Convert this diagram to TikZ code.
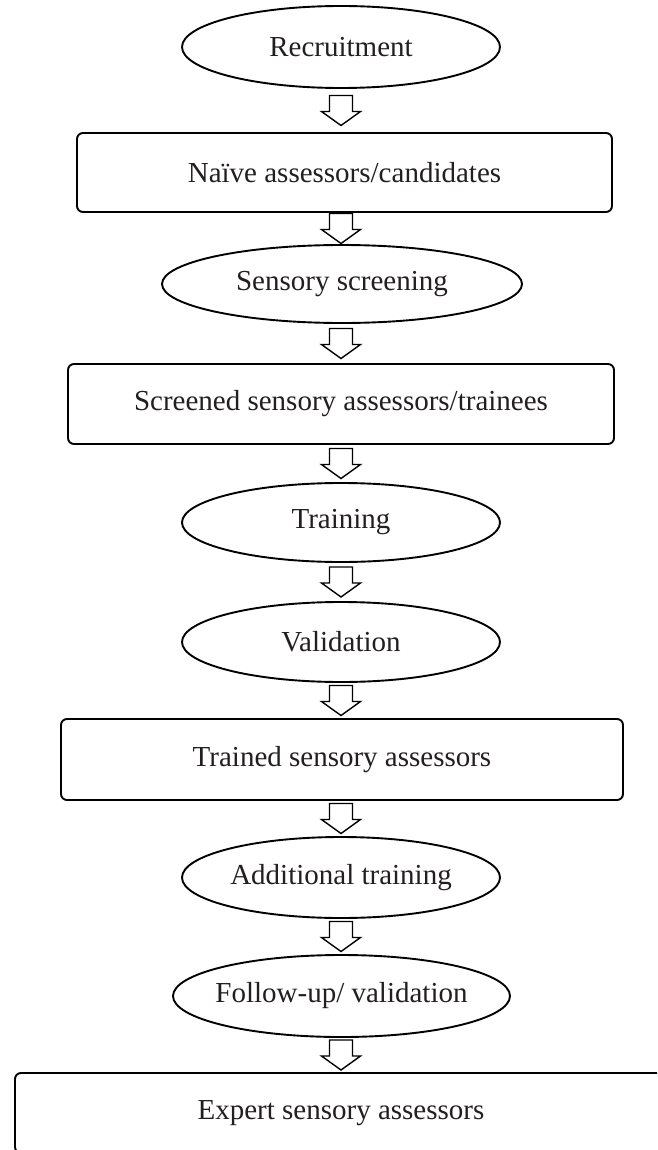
\documentclass[tikz,border=0pt]{standalone}
\usepackage{fontspec}
\setmainfont{Liberation Serif}
\usetikzlibrary{shapes.geometric,calc}
\definecolor{txt}{HTML}{231F20}
\tikzset{
  lbl/.style={font=\fontsize{29}{34}\selectfont, text=txt},
  oval/.style={ellipse, draw=black, line width=1.9pt, fill=white, inner sep=0pt, lbl},
  boxnode/.style={rectangle, rounded corners=6pt, draw=black, line width=1.9pt, fill=white, inner sep=0pt, lbl},
  darrow/.pic={\draw[line width=1.4pt, fill=white, line join=miter]
     (-11.5,-15) -- (11.5,-15) -- (11.5,1) -- (19.5,1) -- (0,15) -- (-19.5,1) -- (-11.5,1) -- cycle;}
}
\begin{document}
\begin{tikzpicture}[x=1pt,y=-1pt]
\useasboundingbox (0,0) rectangle (657,1150);
\clip (0,0) rectangle (657,1150);
\fill[white] (0,0) rectangle (657,1150);

\node[oval, minimum width=318pt, minimum height=82pt] (recr) at (341,47) {Recruitment};
\node[boxnode, minimum width=535pt, minimum height=79pt] (naive) at (344.5,172.5) {Naïve assessors/candidates};
\node[oval, minimum width=360pt, minimum height=78pt] (screen) at (342,284) {Sensory screening};
\node[boxnode, minimum width=546pt, minimum height=80pt] (screened) at (341,404) {Screened sensory assessors/trainees};
\node[oval, minimum width=318pt, minimum height=79pt] (train) at (341,522.5) {Training};
\node[oval, minimum width=318pt, minimum height=80pt] (valid) at (341,642) {Validation};
\node[boxnode, minimum width=562pt, minimum height=81pt] (trained) at (342,759.5) {Trained sensory assessors};
\node[oval, inner xsep=-12pt, minimum width=318pt, minimum height=81pt] (addtr) at (341,877.5) {Additional training};
\node[oval, inner xsep=-12pt, minimum width=337pt, minimum height=82pt] (follow) at (341.5,996) {Follow-up/ validation};
\node[boxnode, minimum width=652pt, minimum height=80pt] (expert) at (341,1113) {Expert sensory assessors};

\coordinate (m1) at ($(recr.south)!0.5!(naive.north)$);
\coordinate (m2) at ($(naive.south)!0.5!(screen.north)$);
\coordinate (m3) at ($(screen.south)!0.5!(screened.north)$);
\coordinate (m4) at ($(screened.south)!0.5!(train.north)$);
\coordinate (m5) at ($(train.south)!0.5!(valid.north)$);
\coordinate (m6) at ($(valid.south)!0.5!(trained.north)$);
\coordinate (m7) at ($(trained.south)!0.5!(addtr.north)$);
\coordinate (m8) at ($(addtr.south)!0.5!(follow.north)$);
\coordinate (m9) at ($(follow.south)!0.5!(expert.north)$);

\pic at (recr.south |- m1) {darrow};
\pic at (recr.south |- m2) {darrow};
\pic at (recr.south |- m3) {darrow};
\pic at (recr.south |- m4) {darrow};
\pic at (recr.south |- m5) {darrow};
\pic at (recr.south |- m6) {darrow};
\pic at (recr.south |- m7) {darrow};
\pic at (recr.south |- m8) {darrow};
\pic at (recr.south |- m9) {darrow};
\end{tikzpicture}
\end{document}
